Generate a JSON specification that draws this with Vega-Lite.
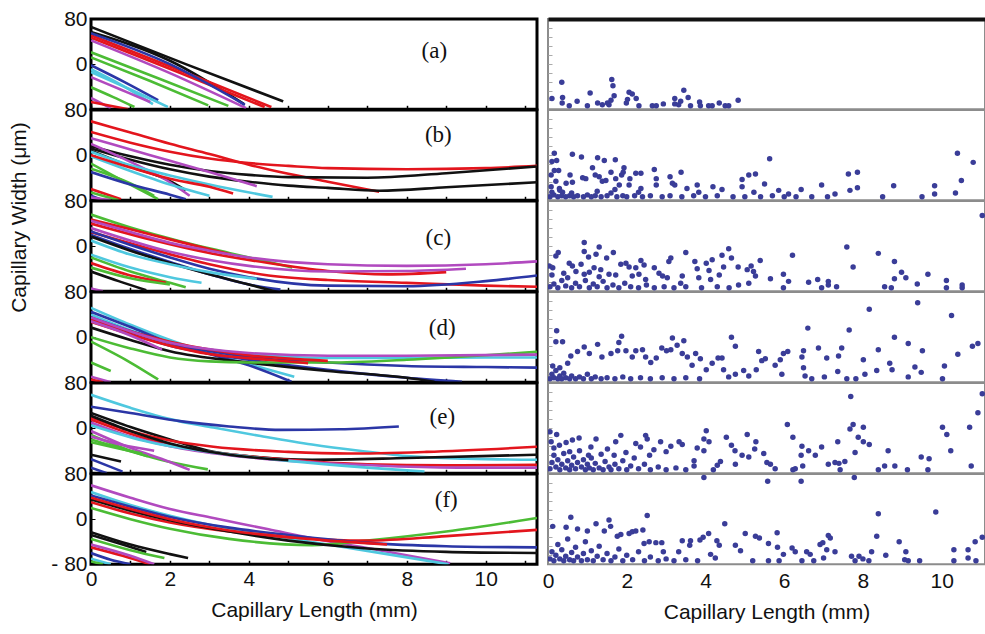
{
"$schema": "https://vega.github.io/schema/vega-lite/v6.json",
"autosize": {"type": "pad"},
"padding": {"left": 6, "top": 6, "right": 0, "bottom": 4},
"background": "white",
"config": {
  "view": {"stroke": "black", "strokeWidth": 3},
  "axis": {"minExtent": 0, "grid": false, "labelFont": "Liberation Sans", "titleFont": "Liberation Sans", "labelColor": "#111", "titleColor": "#111", "labelFontSize": 21, "titleFontSize": 21, "titleFontWeight": "normal"},
  "concat": {"spacing": 0}
},
"datasets": {
"lines": [
{"p":"a","id":"a1","col":"k","x":0,"y":66},{"p":"a","id":"a1","col":"k","x":2.4,"y":0},{"p":"a","id":"a1","col":"k","x":4.87,"y":-66},
{"p":"a","id":"a2","col":"k","x":0,"y":57},{"p":"a","id":"a2","col":"k","x":2,"y":6},{"p":"a","id":"a2","col":"k","x":3.88,"y":-71},
{"p":"a","id":"a3","col":"r","x":0,"y":51},{"p":"a","id":"a3","col":"r","x":2.3,"y":-12},{"p":"a","id":"a3","col":"r","x":4.57,"y":-76},
{"p":"a","id":"a4","col":"r","x":0,"y":47},{"p":"a","id":"a4","col":"r","x":2.2,"y":-14},{"p":"a","id":"a4","col":"r","x":4.4,"y":-76},
{"p":"a","id":"a5","col":"m","x":0,"y":42},{"p":"a","id":"a5","col":"m","x":2,"y":-16},{"p":"a","id":"a5","col":"m","x":3.93,"y":-78},
{"p":"a","id":"a6","col":"b","x":0,"y":55},{"p":"a","id":"a6","col":"b","x":2,"y":0},{"p":"a","id":"a6","col":"b","x":3.9,"y":-72},
{"p":"a","id":"a7","col":"g","x":0,"y":21},{"p":"a","id":"a7","col":"g","x":1.7,"y":-25},{"p":"a","id":"a7","col":"g","x":3.48,"y":-74},
{"p":"a","id":"a8","col":"g","x":0,"y":12},{"p":"a","id":"a8","col":"g","x":1.5,"y":-30},{"p":"a","id":"a8","col":"g","x":2.97,"y":-73},
{"p":"a","id":"a9","col":"b","x":0,"y":-2},{"p":"a","id":"a9","col":"b","x":0.85,"y":-32},{"p":"a","id":"a9","col":"b","x":1.7,"y":-64},
{"p":"a","id":"a10","col":"c","x":0,"y":-14},{"p":"a","id":"a10","col":"c","x":1,"y":-45},{"p":"a","id":"a10","col":"c","x":1.95,"y":-76},
{"p":"a","id":"a11","col":"c","x":0,"y":-9},{"p":"a","id":"a11","col":"c","x":0.8,"y":-38},{"p":"a","id":"a11","col":"c","x":1.57,"y":-71},
{"p":"a","id":"a12","col":"m","x":0,"y":-23},{"p":"a","id":"a12","col":"m","x":0.75,"y":-45},{"p":"a","id":"a12","col":"m","x":1.5,"y":-67},
{"p":"a","id":"a13","col":"g","x":0,"y":-41},{"p":"a","id":"a13","col":"g","x":0.55,"y":-58},{"p":"a","id":"a13","col":"g","x":1.1,"y":-76},
{"p":"a","id":"a14","col":"m","x":0,"y":-60},{"p":"a","id":"a14","col":"m","x":0.5,"y":-78},
{"p":"a","id":"a15","col":"r","x":0,"y":-67},{"p":"a","id":"a15","col":"r","x":0.94,"y":-80},

{"p":"b","id":"b1","col":"r","x":0,"y":60},{"p":"b","id":"b1","col":"r","x":1,"y":40},{"p":"b","id":"b1","col":"r","x":2,"y":20},{"p":"b","id":"b1","col":"r","x":3,"y":2},{"p":"b","id":"b1","col":"r","x":4,"y":-17},{"p":"b","id":"b1","col":"r","x":5,"y":-33},{"p":"b","id":"b1","col":"r","x":6,"y":-47},{"p":"b","id":"b1","col":"r","x":7.3,"y":-65},
{"p":"b","id":"b2","col":"r","x":0,"y":41},{"p":"b","id":"b2","col":"r","x":1,"y":22},{"p":"b","id":"b2","col":"r","x":2,"y":6},{"p":"b","id":"b2","col":"r","x":3,"y":-6},{"p":"b","id":"b2","col":"r","x":4,"y":-14},{"p":"b","id":"b2","col":"r","x":5,"y":-19},{"p":"b","id":"b2","col":"r","x":6,"y":-23},{"p":"b","id":"b2","col":"r","x":8,"y":-25},{"p":"b","id":"b2","col":"r","x":10,"y":-23},{"p":"b","id":"b2","col":"r","x":11.3,"y":-19},
{"p":"b","id":"b3","col":"k","x":0,"y":16},{"p":"b","id":"b3","col":"k","x":1,"y":-2},{"p":"b","id":"b3","col":"k","x":2,"y":-17},{"p":"b","id":"b3","col":"k","x":3,"y":-28},{"p":"b","id":"b3","col":"k","x":4,"y":-35},{"p":"b","id":"b3","col":"k","x":5,"y":-39},{"p":"b","id":"b3","col":"k","x":7,"y":-40},{"p":"b","id":"b3","col":"k","x":9,"y":-32},{"p":"b","id":"b3","col":"k","x":11.3,"y":-20},
{"p":"b","id":"b4","col":"k","x":0,"y":12},{"p":"b","id":"b4","col":"k","x":1,"y":-8},{"p":"b","id":"b4","col":"k","x":2,"y":-25},{"p":"b","id":"b4","col":"k","x":3,"y":-38},{"p":"b","id":"b4","col":"k","x":4,"y":-47},{"p":"b","id":"b4","col":"k","x":5,"y":-54},{"p":"b","id":"b4","col":"k","x":6,"y":-58},{"p":"b","id":"b4","col":"k","x":7.3,"y":-63},{"p":"b","id":"b4","col":"k","x":9,"y":-57},{"p":"b","id":"b4","col":"k","x":11.3,"y":-48},
{"p":"b","id":"b5","col":"k","x":0,"y":8},{"p":"b","id":"b5","col":"k","x":1,"y":-20},{"p":"b","id":"b5","col":"k","x":2,"y":-46},{"p":"b","id":"b5","col":"k","x":2.4,"y":-62},
{"p":"b","id":"b6","col":"m","x":0,"y":30},{"p":"b","id":"b6","col":"m","x":1,"y":10},{"p":"b","id":"b6","col":"m","x":2,"y":-10},{"p":"b","id":"b6","col":"m","x":3,"y":-30},{"p":"b","id":"b6","col":"m","x":4.2,"y":-55},
{"p":"b","id":"b7","col":"m","x":0,"y":20},{"p":"b","id":"b7","col":"m","x":1,"y":-12},{"p":"b","id":"b7","col":"m","x":2,"y":-48},{"p":"b","id":"b7","col":"m","x":2.5,"y":-72},
{"p":"b","id":"b8","col":"c","x":0,"y":6},{"p":"b","id":"b8","col":"c","x":1,"y":-18},{"p":"b","id":"b8","col":"c","x":2,"y":-36},{"p":"b","id":"b8","col":"c","x":3,"y":-52},{"p":"b","id":"b8","col":"c","x":4.6,"y":-74},
{"p":"b","id":"b9","col":"c","x":0,"y":-2},{"p":"b","id":"b9","col":"c","x":1,"y":-28},{"p":"b","id":"b9","col":"c","x":2,"y":-52},{"p":"b","id":"b9","col":"c","x":3,"y":-72},
{"p":"b","id":"b10","col":"r","x":0,"y":0},{"p":"b","id":"b10","col":"r","x":1,"y":-22},{"p":"b","id":"b10","col":"r","x":2,"y":-42},{"p":"b","id":"b10","col":"r","x":3,"y":-56},{"p":"b","id":"b10","col":"r","x":3.6,"y":-68},
{"p":"b","id":"b11","col":"g","x":0,"y":-15},{"p":"b","id":"b11","col":"g","x":0.8,"y":-45},{"p":"b","id":"b11","col":"g","x":1.7,"y":-78},
{"p":"b","id":"b12","col":"g","x":0,"y":-24},{"p":"b","id":"b12","col":"g","x":1,"y":-50},{"p":"b","id":"b12","col":"g","x":1.6,"y":-72},
{"p":"b","id":"b13","col":"b","x":0,"y":-30},{"p":"b","id":"b13","col":"b","x":1,"y":-52},{"p":"b","id":"b13","col":"b","x":2,"y":-70},{"p":"b","id":"b13","col":"b","x":2.4,"y":-78},
{"p":"b","id":"b14","col":"r","x":0,"y":-60},{"p":"b","id":"b14","col":"r","x":0.76,"y":-78},
{"p":"b","id":"b15","col":"g","x":0,"y":-66},{"p":"b","id":"b15","col":"g","x":0.7,"y":-80},
{"p":"b","id":"b16","col":"b","x":0,"y":-72},{"p":"b","id":"b16","col":"b","x":0.3,"y":-80},
{"p":"b","id":"b17","col":"m","x":0,"y":-75},{"p":"b","id":"b17","col":"m","x":0.5,"y":-80},

{"p":"c","id":"c1","col":"g","x":0,"y":56},{"p":"c","id":"c1","col":"g","x":1,"y":33},{"p":"c","id":"c1","col":"g","x":2.3,"y":8},{"p":"c","id":"c1","col":"g","x":3.5,"y":-12},{"p":"c","id":"c1","col":"g","x":5.1,"y":-38},
{"p":"c","id":"c2","col":"r","x":0,"y":47},{"p":"c","id":"c2","col":"r","x":1,"y":30},{"p":"c","id":"c2","col":"r","x":2,"y":12},{"p":"c","id":"c2","col":"r","x":3.55,"y":-15},
{"p":"c","id":"c3","col":"r","x":0,"y":40},{"p":"c","id":"c3","col":"r","x":1.5,"y":12},{"p":"c","id":"c3","col":"r","x":3,"y":-12},{"p":"c","id":"c3","col":"r","x":4.5,"y":-30},{"p":"c","id":"c3","col":"r","x":6,"y":-44},{"p":"c","id":"c3","col":"r","x":7.5,"y":-50},{"p":"c","id":"c3","col":"r","x":9,"y":-46},
{"p":"c","id":"c4","col":"r","x":0,"y":25},{"p":"c","id":"c4","col":"r","x":1.5,"y":-5},{"p":"c","id":"c4","col":"r","x":3,"y":-32},{"p":"c","id":"c4","col":"r","x":4.5,"y":-52},{"p":"c","id":"c4","col":"r","x":6,"y":-60},{"p":"c","id":"c4","col":"r","x":8,"y":-65},{"p":"c","id":"c4","col":"r","x":10,"y":-70},{"p":"c","id":"c4","col":"r","x":11.3,"y":-72},
{"p":"c","id":"c5","col":"m","x":0,"y":45},{"p":"c","id":"c5","col":"m","x":1,"y":25},{"p":"c","id":"c5","col":"m","x":2,"y":6},{"p":"c","id":"c5","col":"m","x":3,"y":-8},{"p":"c","id":"c5","col":"m","x":4,"y":-20},{"p":"c","id":"c5","col":"m","x":6,"y":-32},{"p":"c","id":"c5","col":"m","x":8,"y":-35},{"p":"c","id":"c5","col":"m","x":10,"y":-32},{"p":"c","id":"c5","col":"m","x":11.3,"y":-27},
{"p":"c","id":"c6","col":"m","x":0,"y":32},{"p":"c","id":"c6","col":"m","x":2,"y":-10},{"p":"c","id":"c6","col":"m","x":4,"y":-35},{"p":"c","id":"c6","col":"m","x":6,"y":-45},{"p":"c","id":"c6","col":"m","x":8,"y":-44},{"p":"c","id":"c6","col":"m","x":9.5,"y":-40},
{"p":"c","id":"c7","col":"b","x":0,"y":26},{"p":"c","id":"c7","col":"b","x":1,"y":2},{"p":"c","id":"c7","col":"b","x":2,"y":-20},{"p":"c","id":"c7","col":"b","x":3,"y":-40},{"p":"c","id":"c7","col":"b","x":4,"y":-55},{"p":"c","id":"c7","col":"b","x":6,"y":-70},{"p":"c","id":"c7","col":"b","x":8,"y":-71},{"p":"c","id":"c7","col":"b","x":10,"y":-62},{"p":"c","id":"c7","col":"b","x":11.3,"y":-52},
{"p":"c","id":"c8","col":"b","x":0,"y":20},{"p":"c","id":"c8","col":"b","x":1,"y":-5},{"p":"c","id":"c8","col":"b","x":2,"y":-28},{"p":"c","id":"c8","col":"b","x":3,"y":-50},{"p":"c","id":"c8","col":"b","x":4,"y":-68},{"p":"c","id":"c8","col":"b","x":4.8,"y":-77},
{"p":"c","id":"c9","col":"k","x":0,"y":17},{"p":"c","id":"c9","col":"k","x":1,"y":-8},{"p":"c","id":"c9","col":"k","x":2,"y":-30},{"p":"c","id":"c9","col":"k","x":3,"y":-50},{"p":"c","id":"c9","col":"k","x":4,"y":-68},{"p":"c","id":"c9","col":"k","x":4.65,"y":-80},
{"p":"c","id":"c10","col":"k","x":0,"y":-45},{"p":"c","id":"c10","col":"k","x":0.7,"y":-62},{"p":"c","id":"c10","col":"k","x":1.4,"y":-78},
{"p":"c","id":"c11","col":"c","x":0,"y":-15},{"p":"c","id":"c11","col":"c","x":1,"y":-38},{"p":"c","id":"c11","col":"c","x":2,"y":-55},{"p":"c","id":"c11","col":"c","x":2.8,"y":-65},
{"p":"c","id":"c12","col":"c","x":0,"y":10},{"p":"c","id":"c12","col":"c","x":1,"y":-15},{"p":"c","id":"c12","col":"c","x":2,"y":-32},{"p":"c","id":"c12","col":"c","x":3,"y":-46},{"p":"c","id":"c12","col":"c","x":4.2,"y":-58},
{"p":"c","id":"c13","col":"g","x":0,"y":-20},{"p":"c","id":"c13","col":"g","x":1,"y":-45},{"p":"c","id":"c13","col":"g","x":2,"y":-65},{"p":"c","id":"c13","col":"g","x":2.4,"y":-73},
{"p":"c","id":"c14","col":"r","x":0,"y":-30},{"p":"c","id":"c14","col":"r","x":1,"y":-52},{"p":"c","id":"c14","col":"r","x":1.9,"y":-65},
{"p":"c","id":"c15","col":"g","x":0,"y":-38},{"p":"c","id":"c15","col":"g","x":1,"y":-57},{"p":"c","id":"c15","col":"g","x":2,"y":-68},
{"p":"c","id":"c16","col":"m","x":0,"y":-75},{"p":"c","id":"c16","col":"m","x":0.3,"y":-80},

{"p":"d","id":"d1","col":"c","x":0,"y":52},{"p":"d","id":"d1","col":"c","x":1,"y":22},{"p":"d","id":"d1","col":"c","x":2,"y":-5},{"p":"d","id":"d1","col":"c","x":3,"y":-28},{"p":"d","id":"d1","col":"c","x":4,"y":-48},{"p":"d","id":"d1","col":"c","x":5.15,"y":-70},
{"p":"d","id":"d2","col":"c","x":0,"y":40},{"p":"d","id":"d2","col":"c","x":2,"y":-10},{"p":"d","id":"d2","col":"c","x":4,"y":-30},{"p":"d","id":"d2","col":"c","x":6,"y":-37},{"p":"d","id":"d2","col":"c","x":8,"y":-37},{"p":"d","id":"d2","col":"c","x":10,"y":-36},{"p":"d","id":"d2","col":"c","x":11.3,"y":-36},
{"p":"d","id":"d3","col":"b","x":0,"y":45},{"p":"d","id":"d3","col":"b","x":1,"y":18},{"p":"d","id":"d3","col":"b","x":2,"y":-10},{"p":"d","id":"d3","col":"b","x":3,"y":-30},{"p":"d","id":"d3","col":"b","x":4,"y":-50},{"p":"d","id":"d3","col":"b","x":5.08,"y":-79},
{"p":"d","id":"d4","col":"b","x":0,"y":35},{"p":"d","id":"d4","col":"b","x":2,"y":-10},{"p":"d","id":"d4","col":"b","x":4,"y":-35},{"p":"d","id":"d4","col":"b","x":6,"y":-45},{"p":"d","id":"d4","col":"b","x":8,"y":-51},{"p":"d","id":"d4","col":"b","x":10,"y":-53},{"p":"d","id":"d4","col":"b","x":11.3,"y":-54},
{"p":"d","id":"d5","col":"b","x":0,"y":30},{"p":"d","id":"d5","col":"b","x":2,"y":-15},{"p":"d","id":"d5","col":"b","x":4,"y":-40},{"p":"d","id":"d5","col":"b","x":6,"y":-58},{"p":"d","id":"d5","col":"b","x":8,"y":-72},{"p":"d","id":"d5","col":"b","x":9.4,"y":-79},
{"p":"d","id":"d6","col":"k","x":0,"y":17},{"p":"d","id":"d6","col":"k","x":1,"y":-5},{"p":"d","id":"d6","col":"k","x":2,"y":-25},{"p":"d","id":"d6","col":"k","x":4,"y":-45},{"p":"d","id":"d6","col":"k","x":6,"y":-60},{"p":"d","id":"d6","col":"k","x":8,"y":-72},{"p":"d","id":"d6","col":"k","x":8.7,"y":-79},
{"p":"d","id":"d7","col":"g","x":0,"y":0},{"p":"d","id":"d7","col":"g","x":1,"y":-20},{"p":"d","id":"d7","col":"g","x":2,"y":-36},{"p":"d","id":"d7","col":"g","x":3,"y":-43},{"p":"d","id":"d7","col":"g","x":4,"y":-45},{"p":"d","id":"d7","col":"g","x":6,"y":-45},{"p":"d","id":"d7","col":"g","x":8,"y":-40},{"p":"d","id":"d7","col":"g","x":10,"y":-32},{"p":"d","id":"d7","col":"g","x":11.3,"y":-26},
{"p":"d","id":"d8","col":"r","x":0,"y":27},{"p":"d","id":"d8","col":"r","x":1,"y":5},{"p":"d","id":"d8","col":"r","x":2,"y":-15},{"p":"d","id":"d8","col":"r","x":3,"y":-30},{"p":"d","id":"d8","col":"r","x":4.5,"y":-40},{"p":"d","id":"d8","col":"r","x":5.5,"y":-46},
{"p":"d","id":"d9","col":"r","x":0,"y":32},{"p":"d","id":"d9","col":"r","x":1,"y":10},{"p":"d","id":"d9","col":"r","x":2,"y":-8},{"p":"d","id":"d9","col":"r","x":3,"y":-22},{"p":"d","id":"d9","col":"r","x":4,"y":-32},{"p":"d","id":"d9","col":"r","x":5,"y":-38},{"p":"d","id":"d9","col":"r","x":6,"y":-42},
{"p":"d","id":"d10","col":"m","x":0,"y":35},{"p":"d","id":"d10","col":"m","x":2,"y":-10},{"p":"d","id":"d10","col":"m","x":4,"y":-28},{"p":"d","id":"d10","col":"m","x":6,"y":-33},{"p":"d","id":"d10","col":"m","x":8,"y":-33},{"p":"d","id":"d10","col":"m","x":11.3,"y":-31},
{"p":"d","id":"d11","col":"m","x":0,"y":28},{"p":"d","id":"d11","col":"m","x":1,"y":3},{"p":"d","id":"d11","col":"m","x":1.8,"y":-22},
{"p":"d","id":"d12","col":"g","x":0,"y":-8},{"p":"d","id":"d12","col":"g","x":1,"y":-45},{"p":"d","id":"d12","col":"g","x":1.7,"y":-75},
{"p":"d","id":"d13","col":"g","x":0,"y":-45},{"p":"d","id":"d13","col":"g","x":0.5,"y":-60},
{"p":"d","id":"d14","col":"m","x":0,"y":-70},{"p":"d","id":"d14","col":"m","x":0.5,"y":-80},
{"p":"d","id":"d15","col":"r","x":0,"y":-75},{"p":"d","id":"d15","col":"r","x":0.3,"y":-80},

{"p":"e","id":"e1","col":"c","x":0,"y":59},{"p":"e","id":"e1","col":"c","x":1,"y":36},{"p":"e","id":"e1","col":"c","x":2,"y":16},{"p":"e","id":"e1","col":"c","x":3.1,"y":1},{"p":"e","id":"e1","col":"c","x":4.3,"y":-14},{"p":"e","id":"e1","col":"c","x":5.6,"y":-29},{"p":"e","id":"e1","col":"c","x":6.8,"y":-40},{"p":"e","id":"e1","col":"c","x":8.1,"y":-50},{"p":"e","id":"e1","col":"c","x":9.5,"y":-54},{"p":"e","id":"e1","col":"c","x":11.3,"y":-56},
{"p":"e","id":"e2","col":"b","x":0,"y":38},{"p":"e","id":"e2","col":"b","x":1,"y":27},{"p":"e","id":"e2","col":"b","x":2.3,"y":12},{"p":"e","id":"e2","col":"b","x":3.5,"y":3},{"p":"e","id":"e2","col":"b","x":4.8,"y":-3},{"p":"e","id":"e2","col":"b","x":6.3,"y":-2},{"p":"e","id":"e2","col":"b","x":7.8,"y":3},
{"p":"e","id":"e3","col":"k","x":0,"y":27},{"p":"e","id":"e3","col":"k","x":1,"y":2},{"p":"e","id":"e3","col":"k","x":2,"y":-20},{"p":"e","id":"e3","col":"k","x":3.1,"y":-42},{"p":"e","id":"e3","col":"k","x":4,"y":-50},{"p":"e","id":"e3","col":"k","x":5.6,"y":-56},{"p":"e","id":"e3","col":"k","x":8,"y":-53},{"p":"e","id":"e3","col":"k","x":11.3,"y":-47},
{"p":"e","id":"e4","col":"r","x":0,"y":19},{"p":"e","id":"e4","col":"r","x":1,"y":-5},{"p":"e","id":"e4","col":"r","x":2,"y":-22},{"p":"e","id":"e4","col":"r","x":3.1,"y":-33},{"p":"e","id":"e4","col":"r","x":5,"y":-42},{"p":"e","id":"e4","col":"r","x":6.5,"y":-45},{"p":"e","id":"e4","col":"r","x":8.5,"y":-42},{"p":"e","id":"e4","col":"r","x":11.3,"y":-33},
{"p":"e","id":"e5","col":"r","x":0,"y":15},{"p":"e","id":"e5","col":"r","x":1,"y":-10},{"p":"e","id":"e5","col":"r","x":2,"y":-30},{"p":"e","id":"e5","col":"r","x":3,"y":-42},{"p":"e","id":"e5","col":"r","x":5,"y":-56},{"p":"e","id":"e5","col":"r","x":7,"y":-64},{"p":"e","id":"e5","col":"r","x":9,"y":-66},{"p":"e","id":"e5","col":"r","x":11.3,"y":-65},
{"p":"e","id":"e6","col":"m","x":0,"y":10},{"p":"e","id":"e6","col":"m","x":1,"y":-15},{"p":"e","id":"e6","col":"m","x":2,"y":-32},{"p":"e","id":"e6","col":"m","x":3.5,"y":-48},{"p":"e","id":"e6","col":"m","x":5.5,"y":-60},{"p":"e","id":"e6","col":"m","x":7.5,"y":-67},{"p":"e","id":"e6","col":"m","x":9.5,"y":-70},{"p":"e","id":"e6","col":"m","x":11.3,"y":-70},
{"p":"e","id":"e7","col":"c","x":0,"y":5},{"p":"e","id":"e7","col":"c","x":1.5,"y":-25},{"p":"e","id":"e7","col":"c","x":3,"y":-42},{"p":"e","id":"e7","col":"c","x":5,"y":-58},{"p":"e","id":"e7","col":"c","x":7,"y":-70},{"p":"e","id":"e7","col":"c","x":8.45,"y":-77},
{"p":"e","id":"e8","col":"k","x":0,"y":22},{"p":"e","id":"e8","col":"k","x":1,"y":-5},{"p":"e","id":"e8","col":"k","x":2,"y":-27},{"p":"e","id":"e8","col":"k","x":3.5,"y":-47},{"p":"e","id":"e8","col":"k","x":5,"y":-57},
{"p":"e","id":"e9","col":"g","x":0,"y":-12},{"p":"e","id":"e9","col":"g","x":1,"y":-40},{"p":"e","id":"e9","col":"g","x":2,"y":-60},{"p":"e","id":"e9","col":"g","x":2.96,"y":-73},
{"p":"e","id":"e10","col":"m","x":0,"y":-5},{"p":"e","id":"e10","col":"m","x":1,"y":-35},{"p":"e","id":"e10","col":"m","x":2,"y":-60},{"p":"e","id":"e10","col":"m","x":2.5,"y":-74},
{"p":"e","id":"e11","col":"g","x":0,"y":-20},{"p":"e","id":"e11","col":"g","x":0.8,"y":-37},{"p":"e","id":"e11","col":"g","x":1.44,"y":-50},
{"p":"e","id":"e12","col":"m","x":0,"y":-15},{"p":"e","id":"e12","col":"m","x":0.8,"y":-30},{"p":"e","id":"e12","col":"m","x":1.6,"y":-40},
{"p":"e","id":"e13","col":"g","x":0,"y":-25},{"p":"e","id":"e13","col":"g","x":0.7,"y":-36},{"p":"e","id":"e13","col":"g","x":1.3,"y":-45},
{"p":"e","id":"e14","col":"k","x":0,"y":-47},{"p":"e","id":"e14","col":"k","x":0.76,"y":-59},
{"p":"e","id":"e15","col":"b","x":0,"y":-55},{"p":"e","id":"e15","col":"b","x":0.8,"y":-77},
{"p":"e","id":"e16","col":"b","x":0,"y":-70},{"p":"e","id":"e16","col":"b","x":0.4,"y":-80},

{"p":"f","id":"f1","col":"m","x":0,"y":60},{"p":"f","id":"f1","col":"m","x":1,"y":38},{"p":"f","id":"f1","col":"m","x":2,"y":18},{"p":"f","id":"f1","col":"m","x":3.1,"y":2},{"p":"f","id":"f1","col":"m","x":4.5,"y":-18},{"p":"f","id":"f1","col":"m","x":5.6,"y":-34},{"p":"f","id":"f1","col":"m","x":7.3,"y":-55},{"p":"f","id":"f1","col":"m","x":9.1,"y":-78},
{"p":"f","id":"f2","col":"c","x":0,"y":48},{"p":"f","id":"f2","col":"c","x":1,"y":25},{"p":"f","id":"f2","col":"c","x":2,"y":6},{"p":"f","id":"f2","col":"c","x":3,"y":-10},{"p":"f","id":"f2","col":"c","x":4.5,"y":-28},{"p":"f","id":"f2","col":"c","x":6,"y":-45},{"p":"f","id":"f2","col":"c","x":7.5,"y":-62},{"p":"f","id":"f2","col":"c","x":9.06,"y":-80},
{"p":"f","id":"f3","col":"g","x":0,"y":20},{"p":"f","id":"f3","col":"g","x":1,"y":0},{"p":"f","id":"f3","col":"g","x":2,"y":-17},{"p":"f","id":"f3","col":"g","x":3.5,"y":-35},{"p":"f","id":"f3","col":"g","x":5.6,"y":-46},{"p":"f","id":"f3","col":"g","x":7,"y":-38},{"p":"f","id":"f3","col":"g","x":9,"y":-22},{"p":"f","id":"f3","col":"g","x":11.3,"y":2},
{"p":"f","id":"f4","col":"r","x":0,"y":30},{"p":"f","id":"f4","col":"r","x":1,"y":10},{"p":"f","id":"f4","col":"r","x":2,"y":-6},{"p":"f","id":"f4","col":"r","x":3.5,"y":-22},{"p":"f","id":"f4","col":"r","x":5,"y":-32},{"p":"f","id":"f4","col":"r","x":7,"y":-38},{"p":"f","id":"f4","col":"r","x":9,"y":-30},{"p":"f","id":"f4","col":"r","x":11.3,"y":-19},
{"p":"f","id":"f5","col":"b","x":0,"y":42},{"p":"f","id":"f5","col":"b","x":1,"y":22},{"p":"f","id":"f5","col":"b","x":2,"y":4},{"p":"f","id":"f5","col":"b","x":3.5,"y":-15},{"p":"f","id":"f5","col":"b","x":5,"y":-28},{"p":"f","id":"f5","col":"b","x":7,"y":-42},{"p":"f","id":"f5","col":"b","x":9,"y":-48},{"p":"f","id":"f5","col":"b","x":11.3,"y":-50},
{"p":"f","id":"f6","col":"k","x":0,"y":35},{"p":"f","id":"f6","col":"k","x":1,"y":15},{"p":"f","id":"f6","col":"k","x":2,"y":-2},{"p":"f","id":"f6","col":"k","x":3.5,"y":-22},{"p":"f","id":"f6","col":"k","x":5,"y":-38},{"p":"f","id":"f6","col":"k","x":7,"y":-52},{"p":"f","id":"f6","col":"k","x":9,"y":-58},{"p":"f","id":"f6","col":"k","x":11.3,"y":-60},
{"p":"f","id":"f7","col":"r","x":0,"y":38},{"p":"f","id":"f7","col":"r","x":1,"y":18},{"p":"f","id":"f7","col":"r","x":2,"y":0},{"p":"f","id":"f7","col":"r","x":3.5,"y":-20},{"p":"f","id":"f7","col":"r","x":5.5,"y":-35},{"p":"f","id":"f7","col":"r","x":7.5,"y":-45},
{"p":"f","id":"f8","col":"k","x":0,"y":-23},{"p":"f","id":"f8","col":"k","x":1,"y":-45},{"p":"f","id":"f8","col":"k","x":2,"y":-62},{"p":"f","id":"f8","col":"k","x":2.46,"y":-69},
{"p":"f","id":"f9","col":"k","x":0,"y":-28},{"p":"f","id":"f9","col":"k","x":0.8,"y":-45},{"p":"f","id":"f9","col":"k","x":1.4,"y":-58},
{"p":"f","id":"f10","col":"g","x":0,"y":-35},{"p":"f","id":"f10","col":"g","x":1,"y":-55},{"p":"f","id":"f10","col":"g","x":1.86,"y":-69},
{"p":"f","id":"f11","col":"r","x":0,"y":-50},{"p":"f","id":"f11","col":"r","x":0.8,"y":-65},{"p":"f","id":"f11","col":"r","x":1.5,"y":-80},
{"p":"f","id":"f12","col":"m","x":0,"y":-45},{"p":"f","id":"f12","col":"m","x":1,"y":-65},{"p":"f","id":"f12","col":"m","x":1.6,"y":-80},
{"p":"f","id":"f13","col":"b","x":0,"y":-60},{"p":"f","id":"f13","col":"b","x":0.5,"y":-72},{"p":"f","id":"f13","col":"b","x":1,"y":-80},
{"p":"f","id":"f14","col":"c","x":0,"y":-70},{"p":"f","id":"f14","col":"c","x":0.5,"y":-80},
{"p":"f","id":"f15","col":"g","x":0,"y":-75},{"p":"f","id":"f15","col":"g","x":0.3,"y":-80}
],
"labs": [
{"p":"a","x":8.7,"y":23,"t":"(a)"},{"p":"b","x":8.8,"y":36,"t":"(b)"},{"p":"c","x":8.8,"y":15,"t":"(c)"},
{"p":"d","x":8.9,"y":17,"t":"(d)"},{"p":"e","x":8.9,"y":19,"t":"(e)"},{"p":"f","x":9.0,"y":34,"t":"(f)"}
],
"pts": [
{"p":"a","x":0.1,"y":12},{"p":"a","x":0.35,"y":30},{"p":"a","x":0.37,"y":13},{"p":"a","x":0.36,"y":7},{"p":"a","x":0.54,"y":4},{"p":"a","x":0.74,"y":9},{"p":"a","x":1.0,"y":4},{"p":"a","x":1.07,"y":18},{"p":"a","x":1.26,"y":7},{"p":"a","x":1.38,"y":5},{"p":"a","x":1.51,"y":7},{"p":"a","x":1.6,"y":10},{"p":"a","x":1.62,"y":33},{"p":"a","x":1.65,"y":26},{"p":"a","x":1.68,"y":15},{"p":"a","x":1.55,"y":5},{"p":"a","x":1.99,"y":7},{"p":"a","x":2.02,"y":11},{"p":"a","x":2.06,"y":19},{"p":"a","x":2.14,"y":17},{"p":"a","x":2.24,"y":12},{"p":"a","x":2.31,"y":4},{"p":"a","x":2.65,"y":4},{"p":"a","x":2.75,"y":4},{"p":"a","x":2.93,"y":6},{"p":"a","x":3.22,"y":12},{"p":"a","x":3.22,"y":6},{"p":"a","x":3.32,"y":5},{"p":"a","x":3.37,"y":9},{"p":"a","x":3.45,"y":21},{"p":"a","x":3.56,"y":13},{"p":"a","x":3.62,"y":4},{"p":"a","x":3.85,"y":8},{"p":"a","x":3.87,"y":4},{"p":"a","x":4.08,"y":4},{"p":"a","x":4.17,"y":4},{"p":"a","x":4.35,"y":7},{"p":"a","x":4.5,"y":4},{"p":"a","x":4.59,"y":4},{"p":"a","x":4.83,"y":10},

{"p":"b","x":0.16,"y":52},{"p":"b","x":0.1,"y":43},{"p":"b","x":0.22,"y":44},{"p":"b","x":0.16,"y":33},{"p":"b","x":0.27,"y":33},{"p":"b","x":0.08,"y":28},{"p":"b","x":0.2,"y":21},{"p":"b","x":0.08,"y":15},{"p":"b","x":0.29,"y":13},{"p":"b","x":0.37,"y":9},{"p":"b","x":0.46,"y":19},{"p":"b","x":0.56,"y":28},{"p":"b","x":0.62,"y":51},{"p":"b","x":0.62,"y":20},{"p":"b","x":0.85,"y":48},{"p":"b","x":0.88,"y":25},{"p":"b","x":0.96,"y":24},{"p":"b","x":1.13,"y":36},{"p":"b","x":1.2,"y":28},{"p":"b","x":1.26,"y":47},{"p":"b","x":1.3,"y":26},{"p":"b","x":1.43,"y":44},{"p":"b","x":1.38,"y":21},{"p":"b","x":1.47,"y":22},{"p":"b","x":1.6,"y":31},{"p":"b","x":1.71,"y":45},{"p":"b","x":1.72,"y":24},{"p":"b","x":1.81,"y":17},{"p":"b","x":1.87,"y":28},{"p":"b","x":1.93,"y":36},{"p":"b","x":1.91,"y":31},{"p":"b","x":2.08,"y":24},{"p":"b","x":2.06,"y":17},{"p":"b","x":2.23,"y":30},{"p":"b","x":2.36,"y":30},{"p":"b","x":2.36,"y":13},{"p":"b","x":2.7,"y":34},{"p":"b","x":2.75,"y":24},{"p":"b","x":2.75,"y":17},{"p":"b","x":3.1,"y":26},{"p":"b","x":3.16,"y":19},{"p":"b","x":3.22,"y":17},{"p":"b","x":3.38,"y":31},{"p":"b","x":3.53,"y":13},{"p":"b","x":3.79,"y":17},{"p":"b","x":3.83,"y":9},{"p":"b","x":4.19,"y":15},{"p":"b","x":4.42,"y":12},{"p":"b","x":4.93,"y":23},{"p":"b","x":4.93,"y":15},{"p":"b","x":5.1,"y":28},{"p":"b","x":5.27,"y":29},{"p":"b","x":5.23,"y":9},{"p":"b","x":5.5,"y":18},{"p":"b","x":5.63,"y":46},{"p":"b","x":5.86,"y":11},{"p":"b","x":6.11,"y":7},{"p":"b","x":6.43,"y":12},{"p":"b","x":6.95,"y":17},{"p":"b","x":7.29,"y":7},{"p":"b","x":7.63,"y":29},{"p":"b","x":7.86,"y":31},{"p":"b","x":7.86,"y":14},{"p":"b","x":7.67,"y":11},{"p":"b","x":8.78,"y":16},{"p":"b","x":9.82,"y":16},{"p":"b","x":9.82,"y":7},{"p":"b","x":10.4,"y":52},{"p":"b","x":10.5,"y":22},{"p":"b","x":10.35,"y":8},{"p":"b","x":10.8,"y":42},{"p":"b","x":8.5,"y":4},{"p":"b","x":9.5,"y":4},
{"p":"b","x":0.05,"y":4},{"p":"b","x":0.15,"y":6},{"p":"b","x":0.25,"y":4},{"p":"b","x":0.35,"y":5},{"p":"b","x":0.45,"y":4},{"p":"b","x":0.55,"y":5},{"p":"b","x":0.65,"y":4},{"p":"b","x":0.75,"y":5},{"p":"b","x":0.9,"y":4},{"p":"b","x":1.0,"y":6},{"p":"b","x":1.1,"y":4},{"p":"b","x":1.2,"y":5},{"p":"b","x":1.35,"y":4},{"p":"b","x":1.5,"y":5},{"p":"b","x":1.6,"y":8},{"p":"b","x":1.75,"y":4},{"p":"b","x":1.9,"y":5},{"p":"b","x":2.0,"y":4},{"p":"b","x":2.2,"y":5},{"p":"b","x":2.4,"y":4},{"p":"b","x":2.6,"y":5},{"p":"b","x":2.9,"y":4},{"p":"b","x":3.1,"y":5},{"p":"b","x":3.4,"y":4},{"p":"b","x":3.7,"y":5},{"p":"b","x":4.0,"y":4},{"p":"b","x":4.3,"y":5},{"p":"b","x":4.7,"y":4},{"p":"b","x":5.0,"y":4},{"p":"b","x":5.4,"y":4},{"p":"b","x":5.7,"y":5},{"p":"b","x":6.0,"y":4},{"p":"b","x":6.3,"y":4},{"p":"b","x":6.7,"y":4},{"p":"b","x":7.1,"y":4},{"p":"b","x":0.1,"y":9},{"p":"b","x":0.3,"y":11},{"p":"b","x":0.6,"y":8},{"p":"b","x":1.25,"y":10},{"p":"b","x":1.7,"y":12},{"p":"b","x":2.3,"y":9},

{"p":"c","x":11.03,"y":84},{"p":"c","x":0.92,"y":54},{"p":"c","x":1.3,"y":49},{"p":"c","x":7.59,"y":49},{"p":"c","x":8.39,"y":42},{"p":"c","x":0.26,"y":43},{"p":"c","x":0.2,"y":39},{"p":"c","x":0.92,"y":44},{"p":"c","x":1.22,"y":41},{"p":"c","x":1.49,"y":37},{"p":"c","x":1.66,"y":43},{"p":"c","x":1.03,"y":38},{"p":"c","x":3.5,"y":43},{"p":"c","x":4.59,"y":47},{"p":"c","x":4.42,"y":40},{"p":"c","x":4.66,"y":37},{"p":"c","x":3.12,"y":37},{"p":"c","x":3.07,"y":33},{"p":"c","x":6.21,"y":40},{"p":"c","x":8.8,"y":33},{"p":"c","x":7.75,"y":27},{"p":"c","x":9.65,"y":19},{"p":"c","x":8.98,"y":21},{"p":"c","x":9.09,"y":15},{"p":"c","x":8.8,"y":14},{"p":"c","x":9.38,"y":8},{"p":"c","x":10.12,"y":12},{"p":"c","x":10.52,"y":7},{"p":"c","x":10.12,"y":4},{"p":"c","x":10.52,"y":4},{"p":"c","x":0.03,"y":28},{"p":"c","x":0.12,"y":26},{"p":"c","x":0.54,"y":31},{"p":"c","x":0.62,"y":28},{"p":"c","x":0.71,"y":22},{"p":"c","x":0.84,"y":30},{"p":"c","x":0.92,"y":19},{"p":"c","x":1.05,"y":21},{"p":"c","x":1.17,"y":26},{"p":"c","x":1.34,"y":24},{"p":"c","x":1.3,"y":16},{"p":"c","x":1.55,"y":19},{"p":"c","x":1.72,"y":18},{"p":"c","x":1.85,"y":30},{"p":"c","x":1.98,"y":31},{"p":"c","x":2.06,"y":27},{"p":"c","x":2.23,"y":26},{"p":"c","x":2.36,"y":34},{"p":"c","x":2.44,"y":29},{"p":"c","x":2.14,"y":17},{"p":"c","x":2.31,"y":19},{"p":"c","x":2.48,"y":13},{"p":"c","x":2.7,"y":26},{"p":"c","x":2.82,"y":20},{"p":"c","x":2.91,"y":17},{"p":"c","x":3.03,"y":15},{"p":"c","x":3.41,"y":17},{"p":"c","x":3.37,"y":9},{"p":"c","x":3.73,"y":33},{"p":"c","x":3.79,"y":25},{"p":"c","x":3.83,"y":15},{"p":"c","x":4.02,"y":31},{"p":"c","x":4.09,"y":23},{"p":"c","x":4.17,"y":35},{"p":"c","x":4.13,"y":13},{"p":"c","x":4.35,"y":18},{"p":"c","x":4.46,"y":27},{"p":"c","x":4.83,"y":27},{"p":"c","x":4.84,"y":7},{"p":"c","x":5.06,"y":24},{"p":"c","x":5.16,"y":28},{"p":"c","x":5.22,"y":22},{"p":"c","x":5.27,"y":17},{"p":"c","x":5.39,"y":34},{"p":"c","x":5.1,"y":9},{"p":"c","x":5.65,"y":14},{"p":"c","x":5.98,"y":19},{"p":"c","x":6.11,"y":11},{"p":"c","x":5.98,"y":4},{"p":"c","x":6.62,"y":10},{"p":"c","x":6.85,"y":13},{"p":"c","x":7.12,"y":11},{"p":"c","x":7.12,"y":7},{"p":"c","x":6.95,"y":4},{"p":"c","x":7.33,"y":5},{"p":"c","x":8.55,"y":5},{"p":"c","x":8.72,"y":4},
{"p":"c","x":0.05,"y":5},{"p":"c","x":0.15,"y":8},{"p":"c","x":0.25,"y":4},{"p":"c","x":0.35,"y":12},{"p":"c","x":0.45,"y":6},{"p":"c","x":0.5,"y":15},{"p":"c","x":0.6,"y":4},{"p":"c","x":0.7,"y":9},{"p":"c","x":0.8,"y":5},{"p":"c","x":0.95,"y":12},{"p":"c","x":1.05,"y":4},{"p":"c","x":1.15,"y":8},{"p":"c","x":1.25,"y":5},{"p":"c","x":1.4,"y":11},{"p":"c","x":1.5,"y":4},{"p":"c","x":1.65,"y":7},{"p":"c","x":1.8,"y":4},{"p":"c","x":1.95,"y":9},{"p":"c","x":2.1,"y":5},{"p":"c","x":2.3,"y":4},{"p":"c","x":2.5,"y":7},{"p":"c","x":2.7,"y":4},{"p":"c","x":2.95,"y":5},{"p":"c","x":3.2,"y":4},{"p":"c","x":3.5,"y":5},{"p":"c","x":3.9,"y":4},{"p":"c","x":4.3,"y":5},{"p":"c","x":4.6,"y":4},{"p":"c","x":0.1,"y":18},{"p":"c","x":0.4,"y":20},

{"p":"d","x":9.39,"y":88},{"p":"d","x":8.16,"y":81},{"p":"d","x":10.25,"y":74},{"p":"d","x":6.6,"y":60},{"p":"d","x":7.65,"y":58},{"p":"d","x":0.22,"y":57},{"p":"d","x":0.2,"y":45},{"p":"d","x":0.37,"y":45},{"p":"d","x":1.87,"y":51},{"p":"d","x":1.8,"y":44},{"p":"d","x":3.16,"y":49},{"p":"d","x":3.45,"y":46},{"p":"d","x":4.66,"y":50},{"p":"d","x":4.76,"y":40},{"p":"d","x":6.87,"y":38},{"p":"d","x":7.46,"y":38},{"p":"d","x":8.8,"y":50},{"p":"d","x":9.15,"y":43},{"p":"d","x":8.39,"y":36},{"p":"d","x":9.51,"y":35},{"p":"d","x":10.92,"y":43},{"p":"d","x":10.78,"y":40},{"p":"d","x":10.41,"y":31},{"p":"d","x":1.26,"y":42},{"p":"d","x":0.92,"y":39},{"p":"d","x":0.75,"y":34},{"p":"d","x":0.58,"y":29},{"p":"d","x":0.5,"y":21},{"p":"d","x":1.05,"y":32},{"p":"d","x":1.37,"y":28},{"p":"d","x":1.6,"y":32},{"p":"d","x":1.77,"y":35},{"p":"d","x":1.98,"y":35},{"p":"d","x":2.14,"y":28},{"p":"d","x":2.23,"y":35},{"p":"d","x":2.4,"y":36},{"p":"d","x":2.48,"y":28},{"p":"d","x":2.61,"y":22},{"p":"d","x":2.75,"y":27},{"p":"d","x":2.89,"y":38},{"p":"d","x":3.01,"y":35},{"p":"d","x":3.12,"y":36},{"p":"d","x":3.28,"y":41},{"p":"d","x":3.41,"y":32},{"p":"d","x":3.54,"y":28},{"p":"d","x":3.66,"y":19},{"p":"d","x":3.75,"y":32},{"p":"d","x":3.87,"y":26},{"p":"d","x":4.02,"y":14},{"p":"d","x":4.17,"y":21},{"p":"d","x":4.32,"y":27},{"p":"d","x":4.42,"y":27},{"p":"d","x":4.46,"y":14},{"p":"d","x":4.59,"y":6},{"p":"d","x":4.76,"y":9},{"p":"d","x":4.97,"y":13},{"p":"d","x":5.1,"y":7},{"p":"d","x":5.29,"y":14},{"p":"d","x":5.35,"y":34},{"p":"d","x":5.43,"y":24},{"p":"d","x":5.52,"y":26},{"p":"d","x":5.77,"y":19},{"p":"d","x":5.9,"y":25},{"p":"d","x":5.98,"y":32},{"p":"d","x":6.09,"y":34},{"p":"d","x":5.94,"y":9},{"p":"d","x":6.45,"y":28},{"p":"d","x":6.49,"y":35},{"p":"d","x":6.49,"y":16},{"p":"d","x":6.53,"y":7},{"p":"d","x":6.7,"y":4},{"p":"d","x":7.02,"y":6},{"p":"d","x":7.08,"y":27},{"p":"d","x":7.36,"y":12},{"p":"d","x":7.38,"y":29},{"p":"d","x":7.59,"y":4},{"p":"d","x":7.82,"y":4},{"p":"d","x":8.01,"y":25},{"p":"d","x":8.05,"y":9},{"p":"d","x":8.35,"y":13},{"p":"d","x":8.68,"y":21},{"p":"d","x":8.74,"y":14},{"p":"d","x":9.15,"y":6},{"p":"d","x":9.32,"y":17},{"p":"d","x":9.48,"y":11},{"p":"d","x":10.07,"y":18},{"p":"d","x":10.02,"y":4},
{"p":"d","x":0.05,"y":4},{"p":"d","x":0.1,"y":9},{"p":"d","x":0.15,"y":5},{"p":"d","x":0.2,"y":13},{"p":"d","x":0.25,"y":4},{"p":"d","x":0.3,"y":7},{"p":"d","x":0.35,"y":4},{"p":"d","x":0.4,"y":10},{"p":"d","x":0.45,"y":5},{"p":"d","x":0.55,"y":4},{"p":"d","x":0.6,"y":7},{"p":"d","x":0.7,"y":4},{"p":"d","x":0.8,"y":6},{"p":"d","x":0.9,"y":4},{"p":"d","x":1.0,"y":9},{"p":"d","x":1.1,"y":4},{"p":"d","x":1.2,"y":6},{"p":"d","x":1.35,"y":4},{"p":"d","x":1.5,"y":5},{"p":"d","x":1.7,"y":4},{"p":"d","x":1.9,"y":6},{"p":"d","x":2.1,"y":4},{"p":"d","x":2.35,"y":5},{"p":"d","x":2.6,"y":4},{"p":"d","x":2.9,"y":5},{"p":"d","x":3.2,"y":4},{"p":"d","x":3.5,"y":5},{"p":"d","x":3.85,"y":4},{"p":"d","x":0.12,"y":18},{"p":"d","x":0.3,"y":16},

{"p":"e","x":11.03,"y":88},{"p":"e","x":7.69,"y":85},{"p":"e","x":10.92,"y":67},{"p":"e","x":6.08,"y":54},{"p":"e","x":7.75,"y":54},{"p":"e","x":7.67,"y":49},{"p":"e","x":8.01,"y":51},{"p":"e","x":10.02,"y":51},{"p":"e","x":10.71,"y":51},{"p":"e","x":10.13,"y":43},{"p":"e","x":6.22,"y":40},{"p":"e","x":7.88,"y":40},{"p":"e","x":8.01,"y":35},{"p":"e","x":8.16,"y":32},{"p":"e","x":10.23,"y":25},{"p":"e","x":7.8,"y":23},{"p":"e","x":7.36,"y":35},{"p":"e","x":6.95,"y":29},{"p":"e","x":6.79,"y":20},{"p":"e","x":6.62,"y":25},{"p":"e","x":6.45,"y":30},{"p":"e","x":6.43,"y":20},{"p":"e","x":8.64,"y":25},{"p":"e","x":9.48,"y":18},{"p":"e","x":9.68,"y":16},{"p":"e","x":8.55,"y":8},{"p":"e","x":8.81,"y":8},{"p":"e","x":8.39,"y":4},{"p":"e","x":9.13,"y":4},{"p":"e","x":9.65,"y":4},{"p":"e","x":10.75,"y":8},{"p":"e","x":7.12,"y":10},{"p":"e","x":7.29,"y":12},{"p":"e","x":7.39,"y":11},{"p":"e","x":7.54,"y":13},{"p":"e","x":7.42,"y":4},{"p":"e","x":6.28,"y":5},{"p":"e","x":6.47,"y":8},{"p":"e","x":6.22,"y":4},{"p":"e","x":5.06,"y":43},{"p":"e","x":5.28,"y":35},{"p":"e","x":5.25,"y":27},{"p":"e","x":4.93,"y":20},{"p":"e","x":5.1,"y":18},{"p":"e","x":4.76,"y":10},{"p":"e","x":5.48,"y":22},{"p":"e","x":5.56,"y":12},{"p":"e","x":5.65,"y":10},{"p":"e","x":5.77,"y":5},{"p":"e","x":4.53,"y":40},{"p":"e","x":4.66,"y":31},{"p":"e","x":4.75,"y":25},{"p":"e","x":4.38,"y":13},{"p":"e","x":4.3,"y":9},{"p":"e","x":4.2,"y":4},{"p":"e","x":4.02,"y":47},{"p":"e","x":3.96,"y":38},{"p":"e","x":4.09,"y":35},{"p":"e","x":3.96,"y":25},{"p":"e","x":3.79,"y":28},{"p":"e","x":3.71,"y":14},{"p":"e","x":3.71,"y":8},{"p":"e","x":3.33,"y":35},{"p":"e","x":3.41,"y":32},{"p":"e","x":3.12,"y":30},{"p":"e","x":3.0,"y":24},{"p":"e","x":2.86,"y":35},{"p":"e","x":2.69,"y":26},{"p":"e","x":2.58,"y":20},{"p":"e","x":2.48,"y":42},{"p":"e","x":2.52,"y":38},{"p":"e","x":2.35,"y":29},{"p":"e","x":2.23,"y":33},{"p":"e","x":2.19,"y":17},{"p":"e","x":1.98,"y":23},{"p":"e","x":1.85,"y":42},{"p":"e","x":1.72,"y":35},{"p":"e","x":1.68,"y":20},{"p":"e","x":1.51,"y":27},{"p":"e","x":1.22,"y":38},{"p":"e","x":1.09,"y":29},{"p":"e","x":1.03,"y":20},{"p":"e","x":0.79,"y":39},{"p":"e","x":0.62,"y":37},{"p":"e","x":0.46,"y":34},{"p":"e","x":0.22,"y":43},{"p":"e","x":0.05,"y":46},{"p":"e","x":0.08,"y":35},{"p":"e","x":0.29,"y":31},
{"p":"e","x":0.05,"y":5},{"p":"e","x":0.1,"y":12},{"p":"e","x":0.15,"y":20},{"p":"e","x":0.2,"y":7},{"p":"e","x":0.25,"y":15},{"p":"e","x":0.3,"y":4},{"p":"e","x":0.35,"y":10},{"p":"e","x":0.4,"y":22},{"p":"e","x":0.45,"y":6},{"p":"e","x":0.5,"y":14},{"p":"e","x":0.55,"y":4},{"p":"e","x":0.6,"y":9},{"p":"e","x":0.65,"y":18},{"p":"e","x":0.7,"y":5},{"p":"e","x":0.75,"y":12},{"p":"e","x":0.8,"y":25},{"p":"e","x":0.85,"y":7},{"p":"e","x":0.9,"y":15},{"p":"e","x":0.95,"y":4},{"p":"e","x":1.0,"y":10},{"p":"e","x":1.05,"y":6},{"p":"e","x":1.1,"y":17},{"p":"e","x":1.15,"y":4},{"p":"e","x":1.2,"y":11},{"p":"e","x":1.3,"y":6},{"p":"e","x":1.35,"y":21},{"p":"e","x":1.4,"y":4},{"p":"e","x":1.45,"y":13},{"p":"e","x":1.55,"y":7},{"p":"e","x":1.6,"y":4},{"p":"e","x":1.7,"y":10},{"p":"e","x":1.8,"y":5},{"p":"e","x":1.9,"y":14},{"p":"e","x":2.0,"y":4},{"p":"e","x":2.1,"y":8},{"p":"e","x":2.3,"y":5},{"p":"e","x":2.45,"y":10},{"p":"e","x":2.6,"y":4},{"p":"e","x":2.8,"y":7},{"p":"e","x":3.0,"y":4},{"p":"e","x":3.25,"y":6},{"p":"e","x":3.5,"y":4},{"p":"e","x":0.15,"y":28},{"p":"e","x":0.55,"y":24},

{"p":"f","x":3.96,"y":96},{"p":"f","x":5.58,"y":92},{"p":"f","x":6.43,"y":92},{"p":"f","x":7.78,"y":96},{"p":"f","x":8.39,"y":56},{"p":"f","x":9.85,"y":58},{"p":"f","x":2.52,"y":54},{"p":"f","x":4.49,"y":45},{"p":"f","x":0.12,"y":42},{"p":"f","x":0.58,"y":52},{"p":"f","x":0.46,"y":41},{"p":"f","x":0.75,"y":39},{"p":"f","x":1.0,"y":37},{"p":"f","x":1.22,"y":45},{"p":"f","x":1.43,"y":37},{"p":"f","x":1.55,"y":49},{"p":"f","x":1.59,"y":42},{"p":"f","x":1.76,"y":31},{"p":"f","x":1.85,"y":33},{"p":"f","x":2.06,"y":34},{"p":"f","x":2.14,"y":36},{"p":"f","x":2.23,"y":37},{"p":"f","x":2.41,"y":38},{"p":"f","x":2.44,"y":23},{"p":"f","x":2.57,"y":25},{"p":"f","x":2.74,"y":24},{"p":"f","x":2.89,"y":24},{"p":"f","x":2.93,"y":14},{"p":"f","x":3.32,"y":14},{"p":"f","x":3.41,"y":26},{"p":"f","x":3.62,"y":26},{"p":"f","x":3.6,"y":21},{"p":"f","x":3.86,"y":27},{"p":"f","x":3.94,"y":30},{"p":"f","x":4.08,"y":34},{"p":"f","x":4.29,"y":26},{"p":"f","x":4.35,"y":21},{"p":"f","x":4.13,"y":11},{"p":"f","x":4.25,"y":7},{"p":"f","x":4.76,"y":21},{"p":"f","x":5.01,"y":34},{"p":"f","x":4.89,"y":15},{"p":"f","x":5.27,"y":31},{"p":"f","x":5.37,"y":29},{"p":"f","x":5.2,"y":4},{"p":"f","x":5.6,"y":23},{"p":"f","x":5.82,"y":35},{"p":"f","x":5.83,"y":19},{"p":"f","x":5.98,"y":11},{"p":"f","x":6.2,"y":18},{"p":"f","x":6.28,"y":14},{"p":"f","x":6.57,"y":14},{"p":"f","x":6.66,"y":11},{"p":"f","x":6.91,"y":22},{"p":"f","x":6.98,"y":24},{"p":"f","x":7.12,"y":32},{"p":"f","x":7.17,"y":29},{"p":"f","x":7.08,"y":16},{"p":"f","x":7.29,"y":14},{"p":"f","x":7.0,"y":7},{"p":"f","x":7.71,"y":9},{"p":"f","x":7.9,"y":9},{"p":"f","x":8.0,"y":6},{"p":"f","x":8.22,"y":14},{"p":"f","x":8.35,"y":31},{"p":"f","x":8.58,"y":10},{"p":"f","x":8.92,"y":25},{"p":"f","x":9.09,"y":14},{"p":"f","x":9.06,"y":5},{"p":"f","x":9.15,"y":4},{"p":"f","x":9.44,"y":4},{"p":"f","x":10.31,"y":16},{"p":"f","x":10.31,"y":4},{"p":"f","x":10.67,"y":16},{"p":"f","x":10.67,"y":7},{"p":"f","x":10.85,"y":25},{"p":"f","x":11.03,"y":30},{"p":"f","x":10.87,"y":4},{"p":"f","x":5.6,"y":4},{"p":"f","x":5.87,"y":4},{"p":"f","x":6.45,"y":4},{"p":"f","x":6.75,"y":4},{"p":"f","x":7.8,"y":4},{"p":"f","x":8.15,"y":4},
{"p":"f","x":0.05,"y":6},{"p":"f","x":0.1,"y":14},{"p":"f","x":0.15,"y":4},{"p":"f","x":0.2,"y":10},{"p":"f","x":0.25,"y":22},{"p":"f","x":0.3,"y":6},{"p":"f","x":0.35,"y":16},{"p":"f","x":0.4,"y":4},{"p":"f","x":0.45,"y":9},{"p":"f","x":0.5,"y":28},{"p":"f","x":0.55,"y":5},{"p":"f","x":0.6,"y":13},{"p":"f","x":0.65,"y":4},{"p":"f","x":0.7,"y":19},{"p":"f","x":0.75,"y":8},{"p":"f","x":0.85,"y":4},{"p":"f","x":0.9,"y":12},{"p":"f","x":0.95,"y":25},{"p":"f","x":1.0,"y":5},{"p":"f","x":1.1,"y":15},{"p":"f","x":1.15,"y":4},{"p":"f","x":1.25,"y":9},{"p":"f","x":1.3,"y":20},{"p":"f","x":1.4,"y":5},{"p":"f","x":1.5,"y":12},{"p":"f","x":1.6,"y":4},{"p":"f","x":1.7,"y":8},{"p":"f","x":1.8,"y":17},{"p":"f","x":1.9,"y":4},{"p":"f","x":2.0,"y":10},{"p":"f","x":2.15,"y":5},{"p":"f","x":2.3,"y":14},{"p":"f","x":2.45,"y":4},{"p":"f","x":2.6,"y":8},{"p":"f","x":2.8,"y":4},{"p":"f","x":3.0,"y":6},{"p":"f","x":3.2,"y":4},{"p":"f","x":3.5,"y":5},{"p":"f","x":3.8,"y":4}
]
},
"hconcat": [
{
 "vconcat": [
  {"width": 446, "height": 90.3, "layer": [
   {"data": {"name": "lines"}, "transform": [{"filter": "datum.p=='a'"}], "mark": {"type": "line", "strokeWidth": 2.6, "interpolate": "monotone", "clip": true},
    "encoding": {"x": {"field": "x", "type": "quantitative", "scale": {"domain": [0, 11.3], "nice": false}, "axis": {"values": [0,0.5,1,1.5,2,2.5,3,3.5,4,4.5,5,5.5,6,6.5,7,7.5,8,8.5,9,9.5,10,10.5,11], "labels": false, "domain": false, "title": null, "tickColor": "black", "tickWidth": 1.5, "tickSize": -4}},
     "y": {"field": "y", "type": "quantitative", "scale": {"domain": [-80, 80], "nice": false}, "axis": {"values": [-80,-60,-40,-20,0,20,40,60,80], "labelExpr": "datum.value==80 ? '80' : datum.value==0 ? '0' : ''", "labelOverlap": false, "labelFlush": false, "tickSize": -4, "tickColor": "black", "domain": false, "title": null, "labelPadding": 8}},
     "color": {"field": "col", "type": "nominal", "scale": {"domain": ["k","r","g","b","c","m"], "range": ["#111111","#e3151d","#4cbc35","#2b36a6","#4fc8df","#b14abf"]}, "legend": null},
     "detail": {"field": "id"}}},
   {"data": {"name": "labs"}, "transform": [{"filter": "datum.p=='a'"}], "mark": {"type": "text", "font": "Liberation Serif", "fontSize": 23, "color": "#111"},
    "encoding": {"x": {"field": "x", "type": "quantitative"}, "y": {"field": "y", "type": "quantitative"}, "text": {"field": "t"}}}
  ]},
  {"width": 446, "height": 90.3, "layer": [
   {"data": {"name": "lines"}, "transform": [{"filter": "datum.p=='b'"}], "mark": {"type": "line", "strokeWidth": 2.6, "interpolate": "monotone", "clip": true},
    "encoding": {"x": {"field": "x", "type": "quantitative", "scale": {"domain": [0, 11.3], "nice": false}, "axis": {"values": [0,0.5,1,1.5,2,2.5,3,3.5,4,4.5,5,5.5,6,6.5,7,7.5,8,8.5,9,9.5,10,10.5,11], "labels": false, "domain": false, "title": null, "tickColor": "black", "tickWidth": 1.5, "tickSize": -4}},
     "y": {"field": "y", "type": "quantitative", "scale": {"domain": [-80, 80], "nice": false}, "axis": {"values": [-80,-60,-40,-20,0,20,40,60,80], "labelExpr": "datum.value==80 ? '80' : datum.value==0 ? '0' : ''", "labelOverlap": false, "labelFlush": false, "tickSize": -4, "tickColor": "black", "domain": false, "labelPadding": 8, "title": "Capillary Width (μm)", "titleX": -72, "titleY": 107, "titleAngle": -90, "titleAlign": "center", "titleBaseline": "middle"}},
     "color": {"field": "col", "type": "nominal", "scale": {"domain": ["k","r","g","b","c","m"], "range": ["#111111","#e3151d","#4cbc35","#2b36a6","#4fc8df","#b14abf"]}, "legend": null},
     "detail": {"field": "id"}}},
   {"data": {"name": "labs"}, "transform": [{"filter": "datum.p=='b'"}], "mark": {"type": "text", "font": "Liberation Serif", "fontSize": 23, "color": "#111"},
    "encoding": {"x": {"field": "x", "type": "quantitative"}, "y": {"field": "y", "type": "quantitative"}, "text": {"field": "t"}}}
  ]},
  {"width": 446, "height": 90.3, "layer": [
   {"data": {"name": "lines"}, "transform": [{"filter": "datum.p=='c'"}], "mark": {"type": "line", "strokeWidth": 2.6, "interpolate": "monotone", "clip": true},
    "encoding": {"x": {"field": "x", "type": "quantitative", "scale": {"domain": [0, 11.3], "nice": false}, "axis": {"values": [0,0.5,1,1.5,2,2.5,3,3.5,4,4.5,5,5.5,6,6.5,7,7.5,8,8.5,9,9.5,10,10.5,11], "labels": false, "domain": false, "title": null, "tickColor": "black", "tickWidth": 1.5, "tickSize": -4}},
     "y": {"field": "y", "type": "quantitative", "scale": {"domain": [-80, 80], "nice": false}, "axis": {"values": [-80,-60,-40,-20,0,20,40,60,80], "labelExpr": "datum.value==80 ? '80' : datum.value==0 ? '0' : ''", "labelOverlap": false, "labelFlush": false, "tickSize": -4, "tickColor": "black", "domain": false, "title": null, "labelPadding": 8}},
     "color": {"field": "col", "type": "nominal", "scale": {"domain": ["k","r","g","b","c","m"], "range": ["#111111","#e3151d","#4cbc35","#2b36a6","#4fc8df","#b14abf"]}, "legend": null},
     "detail": {"field": "id"}}},
   {"data": {"name": "labs"}, "transform": [{"filter": "datum.p=='c'"}], "mark": {"type": "text", "font": "Liberation Serif", "fontSize": 23, "color": "#111"},
    "encoding": {"x": {"field": "x", "type": "quantitative"}, "y": {"field": "y", "type": "quantitative"}, "text": {"field": "t"}}}
  ]},
  {"width": 446, "height": 90.3, "layer": [
   {"data": {"name": "lines"}, "transform": [{"filter": "datum.p=='d'"}], "mark": {"type": "line", "strokeWidth": 2.6, "interpolate": "monotone", "clip": true},
    "encoding": {"x": {"field": "x", "type": "quantitative", "scale": {"domain": [0, 11.3], "nice": false}, "axis": {"values": [0,0.5,1,1.5,2,2.5,3,3.5,4,4.5,5,5.5,6,6.5,7,7.5,8,8.5,9,9.5,10,10.5,11], "labels": false, "domain": false, "title": null, "tickColor": "black", "tickWidth": 1.5, "tickSize": -4}},
     "y": {"field": "y", "type": "quantitative", "scale": {"domain": [-80, 80], "nice": false}, "axis": {"values": [-80,-60,-40,-20,0,20,40,60,80], "labelExpr": "datum.value==80 ? '80' : datum.value==0 ? '0' : ''", "labelOverlap": false, "labelFlush": false, "tickSize": -4, "tickColor": "black", "domain": false, "title": null, "labelPadding": 8}},
     "color": {"field": "col", "type": "nominal", "scale": {"domain": ["k","r","g","b","c","m"], "range": ["#111111","#e3151d","#4cbc35","#2b36a6","#4fc8df","#b14abf"]}, "legend": null},
     "detail": {"field": "id"}}},
   {"data": {"name": "labs"}, "transform": [{"filter": "datum.p=='d'"}], "mark": {"type": "text", "font": "Liberation Serif", "fontSize": 23, "color": "#111"},
    "encoding": {"x": {"field": "x", "type": "quantitative"}, "y": {"field": "y", "type": "quantitative"}, "text": {"field": "t"}}}
  ]},
  {"width": 446, "height": 90.3, "layer": [
   {"data": {"name": "lines"}, "transform": [{"filter": "datum.p=='e'"}], "mark": {"type": "line", "strokeWidth": 2.6, "interpolate": "monotone", "clip": true},
    "encoding": {"x": {"field": "x", "type": "quantitative", "scale": {"domain": [0, 11.3], "nice": false}, "axis": {"values": [0,0.5,1,1.5,2,2.5,3,3.5,4,4.5,5,5.5,6,6.5,7,7.5,8,8.5,9,9.5,10,10.5,11], "labels": false, "domain": false, "title": null, "tickColor": "black", "tickWidth": 1.5, "tickSize": -4}},
     "y": {"field": "y", "type": "quantitative", "scale": {"domain": [-80, 80], "nice": false}, "axis": {"values": [-80,-60,-40,-20,0,20,40,60,80], "labelExpr": "datum.value==80 ? '80' : datum.value==0 ? '0' : ''", "labelOverlap": false, "labelFlush": false, "tickSize": -4, "tickColor": "black", "domain": false, "title": null, "labelPadding": 8}},
     "color": {"field": "col", "type": "nominal", "scale": {"domain": ["k","r","g","b","c","m"], "range": ["#111111","#e3151d","#4cbc35","#2b36a6","#4fc8df","#b14abf"]}, "legend": null},
     "detail": {"field": "id"}}},
   {"data": {"name": "labs"}, "transform": [{"filter": "datum.p=='e'"}], "mark": {"type": "text", "font": "Liberation Serif", "fontSize": 23, "color": "#111"},
    "encoding": {"x": {"field": "x", "type": "quantitative"}, "y": {"field": "y", "type": "quantitative"}, "text": {"field": "t"}}}
  ]},
  {"width": 446, "height": 90.3, "layer": [
   {"data": {"name": "lines"}, "transform": [{"filter": "datum.p=='f'"}], "mark": {"type": "line", "strokeWidth": 2.6, "interpolate": "monotone", "clip": true},
    "encoding": {"x": {"field": "x", "type": "quantitative", "scale": {"domain": [0, 11.3], "nice": false}, "axis": {"values": [0,0.5,1,1.5,2,2.5,3,3.5,4,4.5,5,5.5,6,6.5,7,7.5,8,8.5,9,9.5,10,10.5,11], "labelExpr": "datum.value % 2 == 0 ? datum.label : ''", "labelOverlap": false, "labelFlush": false, "labelPadding": 8, "domain": false, "title": "Capillary Length (mm)", "titlePadding": 10, "tickColor": "black", "tickWidth": 1.5, "tickSize": -4}},
     "y": {"field": "y", "type": "quantitative", "scale": {"domain": [-80, 80], "nice": false}, "axis": {"values": [-80,-60,-40,-20,0,20,40,60,80], "labelExpr": "datum.value==80 ? '80' : datum.value==0 ? '0' : datum.value==-80 ? '- 80' : ''", "labelOverlap": false, "labelFlush": false, "tickSize": -4, "tickColor": "black", "domain": false, "title": null, "labelPadding": 8}},
     "color": {"field": "col", "type": "nominal", "scale": {"domain": ["k","r","g","b","c","m"], "range": ["#111111","#e3151d","#4cbc35","#2b36a6","#4fc8df","#b14abf"]}, "legend": null},
     "detail": {"field": "id"}}},
   {"data": {"name": "labs"}, "transform": [{"filter": "datum.p=='f'"}], "mark": {"type": "text", "font": "Liberation Serif", "fontSize": 23, "color": "#111"},
    "encoding": {"x": {"field": "x", "type": "quantitative"}, "y": {"field": "y", "type": "quantitative"}, "text": {"field": "t"}}}
  ]}
 ],
 "bounds": "flush", "spacing": 0
},
{
 "vconcat": [
  {"width": 437, "height": 90.3, "view": {"stroke": "#8c8c8c", "strokeWidth": 2}, "data": {"name": "pts"}, "transform": [{"filter": "datum.p=='a'"}],
   "mark": {"type": "circle", "size": 30, "color": "#3a3d98", "opacity": 1, "clip": true},
   "encoding": {"x": {"field": "x", "type": "quantitative", "scale": {"domain": [0, 11.1], "nice": false}, "axis": {"orient": "top", "domainColor": "#111", "domainWidth": 4, "ticks": false, "labels": false, "title": null}},
    "y": {"field": "y", "type": "quantitative", "scale": {"domain": [0, 100], "nice": false}, "axis": {"values": [10,20,30,40,50,60,70,80,90], "labels": false, "tickSize": -4, "tickColor": "#aaa", "domain": false, "title": null}}}},
  {"width": 437, "height": 90.3, "view": {"stroke": "#8c8c8c", "strokeWidth": 2}, "data": {"name": "pts"}, "transform": [{"filter": "datum.p=='b'"}],
   "mark": {"type": "circle", "size": 30, "color": "#3a3d98", "opacity": 1, "clip": true},
   "encoding": {"x": {"field": "x", "type": "quantitative", "scale": {"domain": [0, 11.1], "nice": false}, "axis": null},
    "y": {"field": "y", "type": "quantitative", "scale": {"domain": [0, 100], "nice": false}, "axis": {"values": [10,20,30,40,50,60,70,80,90], "labels": false, "tickSize": -4, "tickColor": "#aaa", "domain": false, "title": null}}}},
  {"width": 437, "height": 90.3, "view": {"stroke": "#8c8c8c", "strokeWidth": 2}, "data": {"name": "pts"}, "transform": [{"filter": "datum.p=='c'"}],
   "mark": {"type": "circle", "size": 30, "color": "#3a3d98", "opacity": 1, "clip": true},
   "encoding": {"x": {"field": "x", "type": "quantitative", "scale": {"domain": [0, 11.1], "nice": false}, "axis": null},
    "y": {"field": "y", "type": "quantitative", "scale": {"domain": [0, 100], "nice": false}, "axis": {"values": [10,20,30,40,50,60,70,80,90], "labels": false, "tickSize": -4, "tickColor": "#aaa", "domain": false, "title": null}}}},
  {"width": 437, "height": 90.3, "view": {"stroke": "#8c8c8c", "strokeWidth": 2}, "data": {"name": "pts"}, "transform": [{"filter": "datum.p=='d'"}],
   "mark": {"type": "circle", "size": 30, "color": "#3a3d98", "opacity": 1, "clip": true},
   "encoding": {"x": {"field": "x", "type": "quantitative", "scale": {"domain": [0, 11.1], "nice": false}, "axis": null},
    "y": {"field": "y", "type": "quantitative", "scale": {"domain": [0, 100], "nice": false}, "axis": {"values": [10,20,30,40,50,60,70,80,90], "labels": false, "tickSize": -4, "tickColor": "#aaa", "domain": false, "title": null}}}},
  {"width": 437, "height": 90.3, "view": {"stroke": "#8c8c8c", "strokeWidth": 2}, "data": {"name": "pts"}, "transform": [{"filter": "datum.p=='e'"}],
   "mark": {"type": "circle", "size": 30, "color": "#3a3d98", "opacity": 1, "clip": true},
   "encoding": {"x": {"field": "x", "type": "quantitative", "scale": {"domain": [0, 11.1], "nice": false}, "axis": null},
    "y": {"field": "y", "type": "quantitative", "scale": {"domain": [0, 100], "nice": false}, "axis": {"values": [10,20,30,40,50,60,70,80,90], "labels": false, "tickSize": -4, "tickColor": "#aaa", "domain": false, "title": null}}}},
  {"width": 437, "height": 90.3, "view": {"stroke": "#8c8c8c", "strokeWidth": 2}, "data": {"name": "pts"}, "transform": [{"filter": "datum.p=='f'"}],
   "mark": {"type": "circle", "size": 30, "color": "#3a3d98", "opacity": 1, "clip": true},
   "encoding": {"x": {"field": "x", "type": "quantitative", "scale": {"domain": [0, 11.1], "nice": false}, "axis": {"values": [0,2,4,6,8,10], "ticks": false, "domain": false, "labelFlush": false, "labelPadding": 6, "title": "Capillary Length (mm)", "titlePadding": 10}},
    "y": {"field": "y", "type": "quantitative", "scale": {"domain": [0, 100], "nice": false}, "axis": {"values": [10,20,30,40,50,60,70,80,90], "labels": false, "tickSize": -4, "tickColor": "#aaa", "domain": false, "title": null}}}}
 ],
 "bounds": "flush", "spacing": 0
}
],
"spacing": 2
}
